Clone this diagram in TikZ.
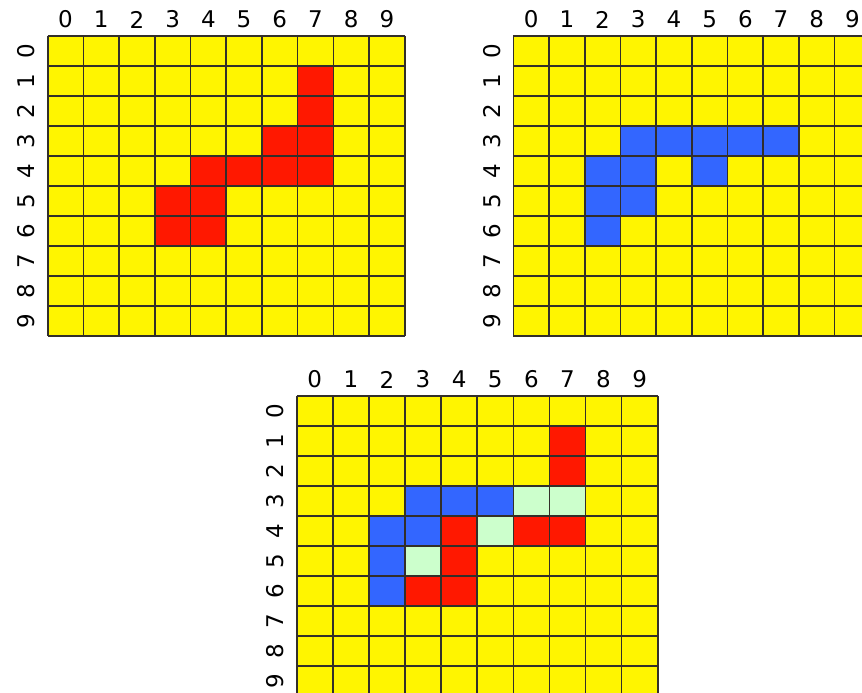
\documentclass[tikz,border=0pt]{standalone}
\usepackage{fontspec}
\setmainfont{DejaVu Sans}
\definecolor{boardyellow}{RGB}{255,245,0}
\definecolor{boardred}{RGB}{255,24,0}
\definecolor{boardblue}{RGB}{51,102,255}
\definecolor{boardgreen}{RGB}{204,255,204}
\begin{document}
\begin{tikzpicture}[x=1pt,y=-1pt,
  gridline/.style={black!85!olive,line width=1.6pt},
  lbl/.style={font=\fontsize{23}{23}\selectfont,inner sep=0pt},
  rowlbl/.style={lbl,rotate=90}]
\useasboundingbox (0,0) rectangle (862,693);
\clip (0,0) rectangle (862,693);

% first word
\begin{scope}[shift={(47.7,36)},x=35.7pt,y=-30pt]
\fill[boardyellow] (0,0) rectangle (10,10);
\foreach \c/\r in {7/1,7/2,6/3,7/3,4/4,5/4,6/4,7/4,3/5,4/5,3/6,4/6}
  \fill[boardred] (\c,\r) rectangle ++(1,1);
\foreach \i in {0,...,10} {
  \draw[gridline] (\i,0) -- (\i,10);
  \draw[gridline] (0,\i) -- (10,\i);
}
\foreach \i in {0,...,9} {
  \node[lbl] (a-col\i) at (\i+0.5,-0.55) {\i};
  \node[rowlbl] (a-row\i) at (-0.6,\i+0.5) {\i};
}
\end{scope}

% second word
\begin{scope}[shift={(513.3,36)},x=35.7pt,y=-30pt]
\fill[boardyellow] (0,0) rectangle (10,10);
\foreach \c/\r in {3/3,4/3,5/3,6/3,7/3,2/4,3/4,5/4,2/5,3/5,2/6}
  \fill[boardblue] (\c,\r) rectangle ++(1,1);
\foreach \i in {0,...,10} {
  \draw[gridline] (\i,0) -- (\i,10);
  \draw[gridline] (0,\i) -- (10,\i);
}
\foreach \i in {0,...,9} {
  \node[lbl] (b-col\i) at (\i+0.5,-0.55) {\i};
  \node[rowlbl] (b-row\i) at (-0.6,\i+0.5) {\i};
}
\end{scope}

% overlap
\begin{scope}[shift={(296.7,396)},x=36.1pt,y=-30pt]
\fill[boardyellow] (0,0) rectangle (10,10);
\foreach \c/\r in {7/1,7/2,4/4,6/4,7/4,4/5,3/6,4/6}
  \fill[boardred] (\c,\r) rectangle ++(1,1);
\foreach \c/\r in {3/3,4/3,5/3,2/4,3/4,2/5,2/6}
  \fill[boardblue] (\c,\r) rectangle ++(1,1);
\foreach \c/\r in {6/3,7/3,5/4,3/5}
  \fill[boardgreen] (\c,\r) rectangle ++(1,1);
\foreach \i in {0,...,10} {
  \draw[gridline] (\i,0) -- (\i,10);
  \draw[gridline] (0,\i) -- (10,\i);
}
\foreach \i in {0,...,9} {
  \node[lbl] (c-col\i) at (\i+0.5,-0.55) {\i};
  \node[rowlbl] (c-row\i) at (-0.6,\i+0.5) {\i};
}
\end{scope}
\end{tikzpicture}
\end{document}
